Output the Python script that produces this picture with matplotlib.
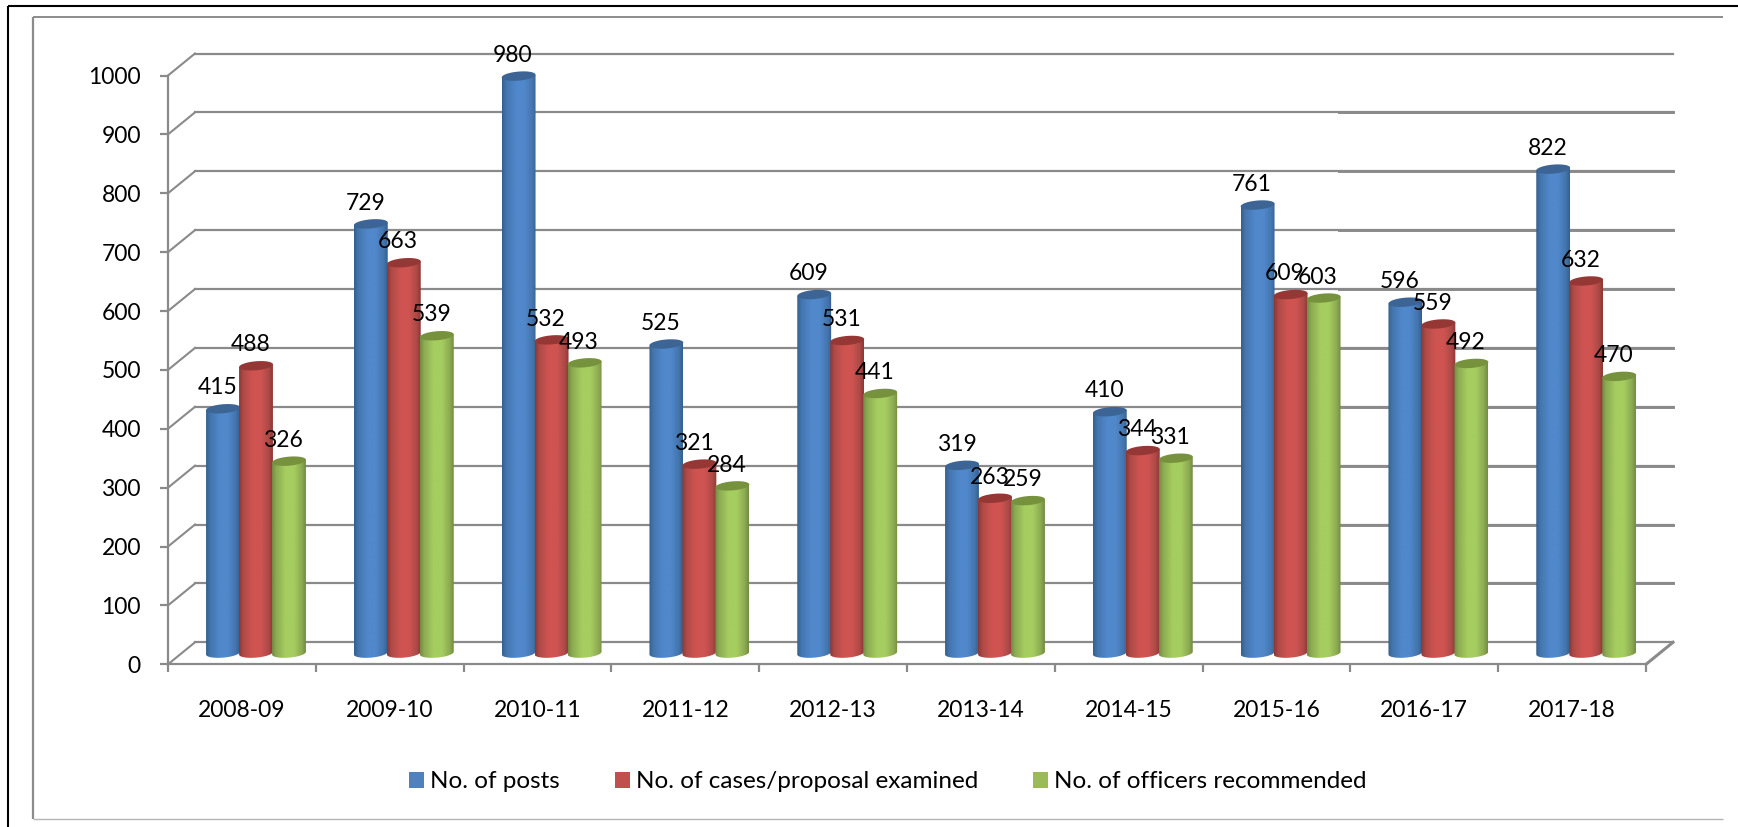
import numpy as np
import matplotlib
matplotlib.use('Agg')
import matplotlib.pyplot as plt
from matplotlib.colors import LinearSegmentedColormap
from matplotlib.lines import Line2D
from matplotlib.patches import Patch, PathPatch, Polygon
from matplotlib.path import Path

years = ["2008-09", "2009-10", "2010-11", "2011-12", "2012-13",
         "2013-14", "2014-15", "2015-16", "2016-17", "2017-18"]
posts = [415, 729, 980, 525, 609, 319, 410, 761, 596, 822]
examined = [488, 663, 532, 321, 531, 263, 344, 609, 559, 632]
recommended = [326, 539, 493, 284, 441, 259, 331, 603, 492, 470]
y_ticks = [0, 100, 200, 300, 400, 500, 600, 700, 800, 900, 1000]
series_names = ["No. of posts", "No. of cases/proposal examined", "No. of officers recommended"]

W, H = 1738, 827
GREY = "#8a8a8a"
FS = 16.5
plt.rcParams['font.family'] = ['Lato', 'DejaVu Sans']

# pixel box of the front axes
L, R, T, B = 168, 1646, 75.5, 664.3
fig = plt.figure(figsize=(W / 100, H / 100), dpi=100, facecolor="white")
ax = fig.add_axes([L / W, 1 - B / H, (R - L) / W, (B - T) / H])
ax.patch.set_visible(False)
px = 10 / (R - L)
py = 1000 / (B - T)

# chart frames
def frame(xs, ys, color, lw):
    fig.add_artist(Line2D(np.array(xs) / W, 1 - np.array(ys) / H, color=color, lw=lw,
                          solid_capstyle="butt", solid_joinstyle="miter"))

frame([8, 8], [5.5, 827], "black", 1.5)
frame([8, 1738], [5.5, 5.5], "black", 1.5)
frame([32.5, 32.5], [819, 17], "#8c8c8c", 1.6)
frame([32.5, 1723], [17, 17], "#8c8c8c", 1.4)
frame([32.5, 1723], [819, 819], "#b5b5b5", 1.0)

# back wall, side wall and floor
dx, dy = 27 * px, 22 * py
for v in y_ticks:
    ax.plot([0, dx], [v, v + dy], color=GREY, lw=1.5, clip_on=False, zorder=1)
    ax.plot([dx, 10 + dx], [v + dy, v + dy], color=GREY, lw=1.6, clip_on=False, zorder=1)
    # right part of the lines is heavier in the reference
    if 100 <= v <= 900:
        ax.plot([(1339 - L) * px, 10 + dx], [v + dy, v + dy], color=GREY, lw=2.1, clip_on=False, zorder=1)
ax.plot([10, 10 + dx], [0, dy], color=GREY, lw=2.2, clip_on=False, zorder=1)

# edge, half shade, centre, top cap
palette = [
    ("#34608f", "#4475ad", "#5088cb", "#3c6494"),
    ("#8c3835", "#ad4a47", "#cf5451", "#953735"),
    ("#748c42", "#8dab52", "#a5cd60", "#76923c"),
]
legend_colors = ["#4f81bd", "#c0504d", "#9bbb59"]

# cylinders
a_px, b_px, tilt = 17, 4.5, np.radians(-5)
base = 19
offsets = [55, 88, 121]


def ellipse_pts(cx, cy, t):
    ex = a_px * np.cos(t)
    ey = b_px * np.sin(t)
    xr = ex * np.cos(tilt) - ey * np.sin(tilt)
    yr = ex * np.sin(tilt) + ey * np.cos(tilt)
    return cx + xr * px, cy - yr * py


def cylinder(cx, value, colors, z):
    top = base + value
    t_low = np.linspace(np.pi, 0, 40)
    xb, yb = ellipse_pts(cx, base, t_low)
    xt, yt = ellipse_pts(cx, top, np.array([0.0, np.pi]))
    verts = np.column_stack([np.r_[xb, xt], np.r_[yb, yt]])
    verts = np.vstack([verts, verts[0]])
    body = PathPatch(Path(verts), fc="none", ec="none", transform=ax.transData, zorder=z)
    ax.add_patch(body)
    cmap = LinearSegmentedColormap.from_list(
        "cyl", [(0, colors[0]), (0.12, colors[1]), (0.4, colors[2]), (0.65, colors[2]),
                (0.88, colors[1]), (1, colors[0])])
    grad = np.linspace(0, 1, 64).reshape(1, -1)
    left = cx - a_px * px
    right = cx + a_px * px
    im = ax.imshow(grad, cmap=cmap, aspect="auto", extent=(left, right, base - 10, top + 10),
                   zorder=z, interpolation="bilinear")
    im.set_clip_box(None)
    im.set_clip_path(body)
    xe, ye = ellipse_pts(cx, top, np.linspace(0, 2 * np.pi, 60))
    ax.add_patch(Polygon(np.column_stack([xe, ye]), fc=colors[3], ec="none", zorder=z + 0.1, clip_on=False))


all_series = [posts, examined, recommended]
z = 3
for i in range(len(years)):
    for s, vals in enumerate(all_series):
        cx = i + offsets[s] * px
        cylinder(cx, vals[i], palette[s], z)
        z += 1

# value labels sit on top of everything
for i in range(len(years)):
    for s, vals in enumerate(all_series):
        cx = i + offsets[s] * px
        ax.annotate(str(vals[i]), (cx, base + vals[i]), textcoords="offset points", xytext=(-4, 15),
                    ha="center", va="center", fontsize=FS, color="black", zorder=200,
                    annotation_clip=False)

# axes
ax.set_xlim(0, 10)
ax.set_ylim(0, 1000)
for side in ("top", "right"):
    ax.spines[side].set_visible(False)
for side in ("left", "bottom"):
    ax.spines[side].set_color(GREY)
    ax.spines[side].set_linewidth(1.6)
    ax.spines[side].set_zorder(2)
ax.set_yticks(y_ticks)
ax.tick_params(axis="y", length=6, width=1.6, color=GREY, labelsize=FS, pad=13.5)
ax.set_xticks(range(11))
ax.set_xticklabels([])
ax.tick_params(axis="x", which="major", length=6, width=1.6, color=GREY)
ax.set_xticks(np.arange(10) + 0.5, minor=True)
ax.set_xticklabels(years, minor=True, fontsize=FS)
ax.tick_params(axis="x", which="minor", length=0, pad=26)

# legend
handles = [Patch(fc=c, ec="none") for c in legend_colors]
fig.legend(handles, series_names, ncol=3, frameon=False, fontsize=17.5,
           loc="center", bbox_to_anchor=(888 / W, 1 - 782 / H),
           handlelength=0.62, handleheight=0.62, handletextpad=0.25, columnspacing=2.26)

fig.savefig("out.png", dpi=100)
plt.close(fig)
